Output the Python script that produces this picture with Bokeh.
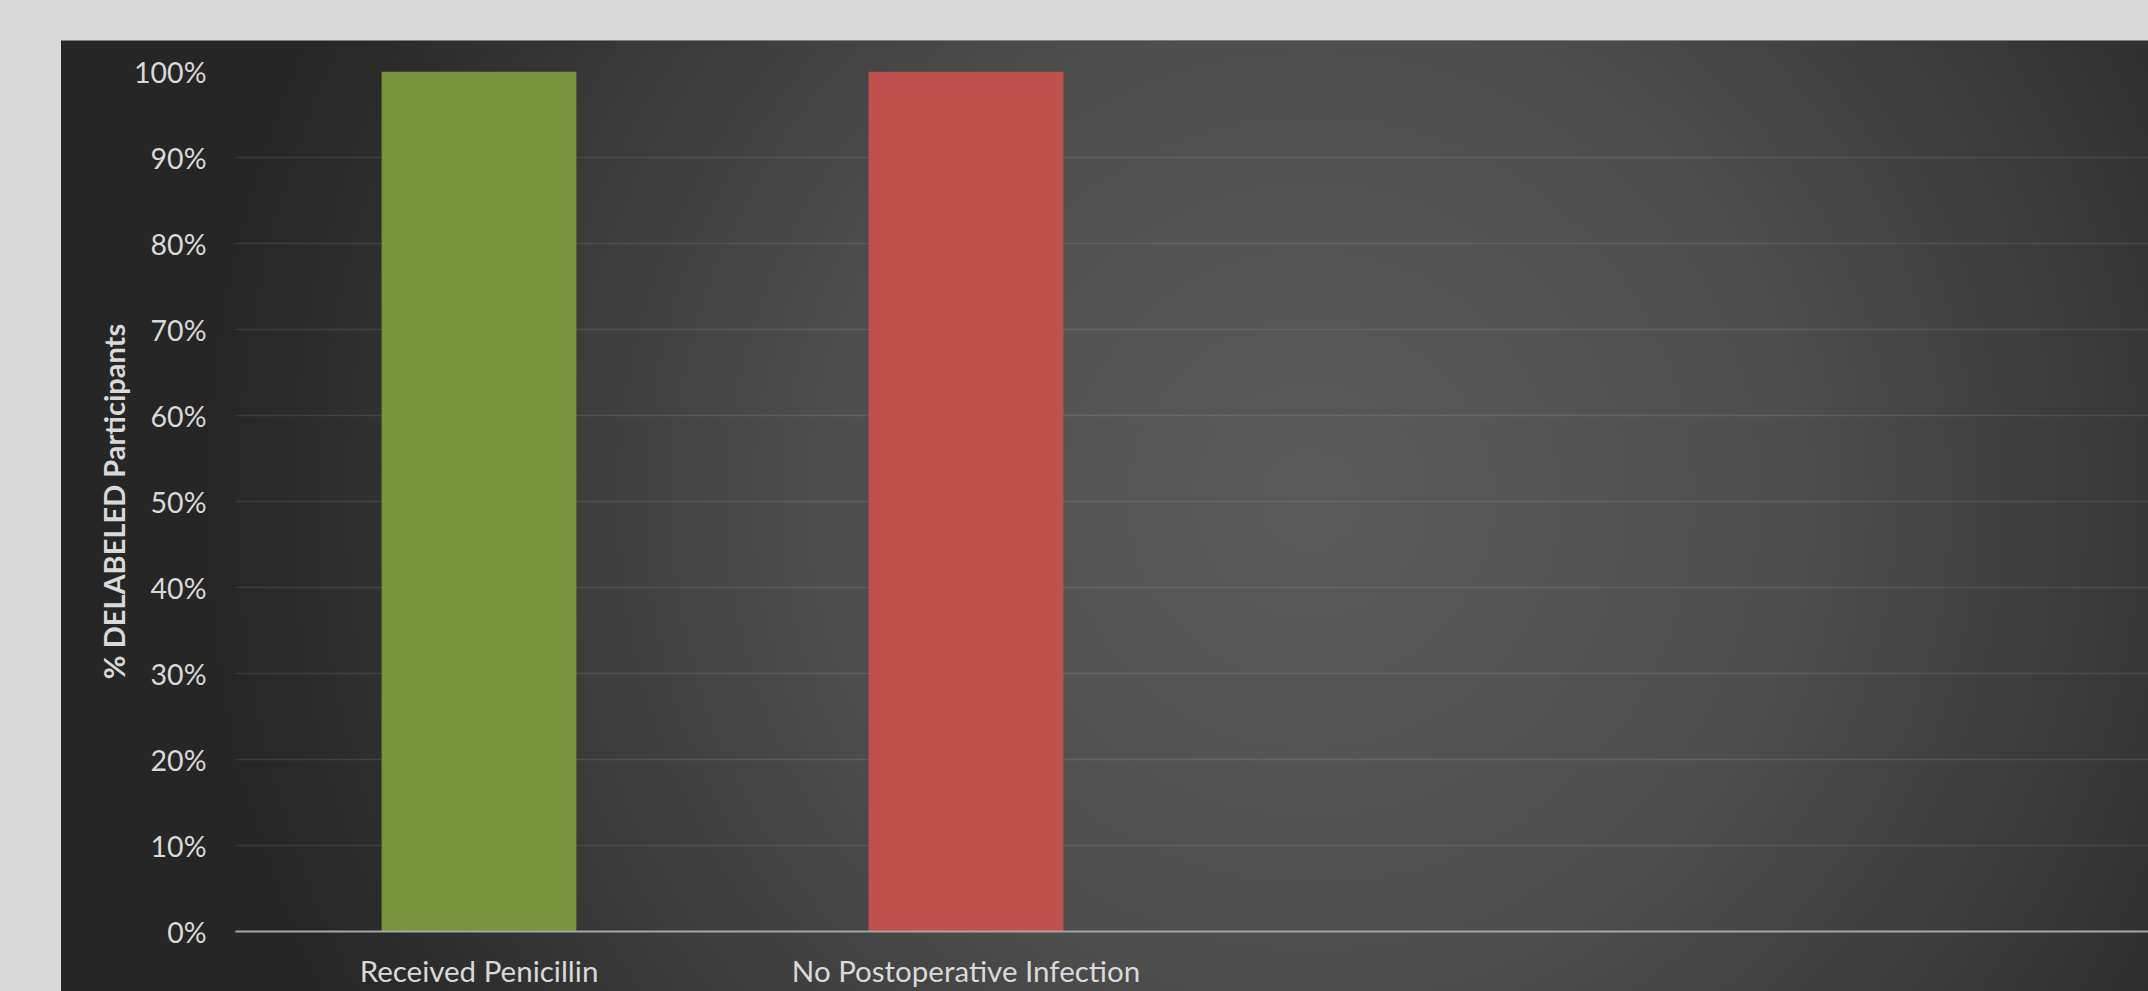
from bokeh.plotting import figure
from bokeh.models import ColumnDataSource, FixedTicker, Range1d
from bokeh.embed import file_html
from bokeh.resources import INLINE

# ---- data ----
categories = ["Received Penicillin", "No Postoperative Infection"]
values = [1.0, 1.0]
bar_colors = ["#77933C", "#C0504D"]
y_tick_values = [0.0, 0.1, 0.2, 0.3, 0.4, 0.5, 0.6, 0.7, 0.8, 0.9, 1.0]
y_tick_labels = ["0%", "10%", "20%", "30%", "40%", "50%", "60%", "70%", "80%", "90%", "100%"]
y_title = "% DELABELED Participants"

# ---- layout constants ----
FIG_W, FIG_H = 2087, 951
LEFT, TOP, BOTTOM = 174, 31, 60
SLOT_PX = 487  # pixel width of one category slot
frame_w = FIG_W - LEFT
x_end = frame_w / SLOT_PX

x_pos = [i + 0.5 for i in range(len(categories))]
src = ColumnDataSource(dict(x=x_pos, top=values, color=bar_colors, cat=categories))

p = figure(
    width=FIG_W, height=FIG_H,
    x_range=Range1d(0, x_end), y_range=Range1d(0, 1),
    output_backend="svg", toolbar_location=None,
    min_border_left=LEFT, min_border_top=TOP, min_border_bottom=BOTTOM, min_border_right=0,
    background_fill_alpha=0, border_fill_alpha=0, outline_line_color=None,
    margin=(40, 0, 0, 61),
    styles={
        "background": "radial-gradient(circle 1100px at 1250px 460px, #5a5a5a 0%, #4d4d4d 45%, #262626 100%)",
        "box-shadow": "inset 0 1px 0 #7f7f7f",
    },
)

p.vbar(x="x", top="top", width=0.4, bottom=0, fill_color="color", line_color=None, source=src)

# y axis
p.yaxis.ticker = FixedTicker(ticks=y_tick_values)
p.yaxis.major_label_overrides = {v: l for v, l in zip(y_tick_values, y_tick_labels)}
p.yaxis.axis_line_color = None
p.yaxis.major_tick_line_color = None
p.yaxis.minor_tick_line_color = None
p.yaxis.major_tick_out = 0
p.yaxis.major_label_standoff = 29
p.yaxis.major_label_text_font = "Lato"
p.yaxis.major_label_text_font_size = "28.5px"
p.yaxis.major_label_text_color = "#d9d9d9"
p.yaxis.axis_label = y_title
p.yaxis.axis_label_text_font = "Lato"
p.yaxis.axis_label_text_font_style = "bold"
p.yaxis.axis_label_text_font_size = "29px"
p.yaxis.axis_label_text_color = "#d9d9d9"
p.yaxis.axis_label_standoff = 0

# x axis
p.xaxis.ticker = FixedTicker(ticks=x_pos)
p.xaxis.major_label_overrides = {x: c for x, c in zip(x_pos, categories)}
p.xaxis.axis_line_color = "#a6a6a6"
p.xaxis.axis_line_width = 2
p.xaxis.major_tick_line_color = None
p.xaxis.minor_tick_line_color = None
p.xaxis.major_tick_out = 0
p.xaxis.major_label_standoff = 21
p.xaxis.major_label_text_font = "Lato"
p.xaxis.major_label_text_font_size = "29.5px"
p.xaxis.major_label_text_color = "#d9d9d9"

# grid
p.xgrid.grid_line_color = None
p.ygrid.grid_line_color = "#ffffff"
p.ygrid.grid_line_alpha = 0.1
p.ygrid.grid_line_width = 1.5

html = file_html(p, INLINE)
html = html.replace(
    "</head>",
    "<style>html,body{margin:0;padding:0;background:#d9d9d9;overflow:hidden}</style></head>",
)
open("out.html", "w").write(html)
